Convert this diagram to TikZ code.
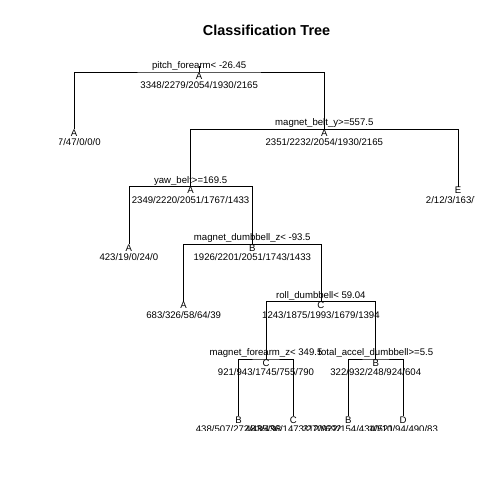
\documentclass[tikz,border=0pt]{standalone}
\usepackage{fontspec}
\setmainfont{Liberation Sans}
\usepackage{tikz}
\tikzset{
galho/.style={draw=black, line width=0.75pt}
         }
\tikzset{
regra/.style = {anchor=base, inner sep=0pt, yshift=3.5pt, font=\fontsize{9.6}{11}\selectfont},
classe/.style = {anchor=base, inner sep=0pt, yshift=-7pt, font=\fontsize{9.6}{11}\selectfont},
contagem/.style = {anchor=base, inner sep=0pt, yshift=-16.5pt, font=\fontsize{9.6}{11}\selectfont},
titulo/.style = {anchor=base, inner sep=0pt, font=\fontsize{14.4}{17}\selectfont\bfseries}
         }

\begin{document}
\begin{tikzpicture}[x=1pt,y=-1pt]
    \useasboundingbox (0,0) rectangle (504,504);

    % TITULO
    \node[titulo] (titulo) at (266.5,35) {Classification Tree};

    % NOS
    \coordinate (n0) at (199.15,72);
    \coordinate (f1) at (74,129.4);
    \coordinate (n1) at (324.3,129.4);
    \coordinate (n2) at (190.6,186.8);
    \coordinate (f2) at (458,186.8);
    \coordinate (f3) at (128.9,244.2);
    \coordinate (n3) at (252.3,244.2);
    \coordinate (f4) at (183.7,301.6);
    \coordinate (n4) at (320.9,301.6);
    \coordinate (n5) at (266,359);
    \coordinate (n6) at (375.75,359);
    \coordinate (f5) at (238.6,416.4);
    \coordinate (f6) at (293.4,416.4);
    \coordinate (f7) at (348.3,416.4);
    \coordinate (f8) at (403.2,416.4);

    \begin{scope}
    \clip (59,59) rectangle (474,430.5);

    % GALHOS
    \draw[galho] (n0) -- +(0,-6);
    \draw[galho] (f1) |- (n0) -| (n1);
    \draw[galho] (n2) |- (n1) -| (f2);
    \draw[galho] (f3) |- (n2) -| (n3);
    \draw[galho] (f4) |- (n3) -| (n4);
    \draw[galho] (n5) |- (n4) -| (n6);
    \draw[galho] (f5) |- (n5) -| (f6);
    \draw[galho] (f7) |- (n6) -| (f8);

    % REGRAS
    \node[regra] (r0) at (n0) {pitch\_forearm< -26.45};
    \node[regra] (r1) at (n1) {magnet\_belt\_y>=557.5};
    \node[regra] (r2) at (n2) {yaw\_belt>=169.5};
    \node[regra] (r3) at (n3) {magnet\_dumbbell\_z< -93.5};
    \node[regra] (r4) at (n4) {roll\_dumbbell< 59.04};
    \node[regra] (r5) at (n5) {magnet\_forearm\_z< 349.5};
    \node[regra] (r6) at (n6) {total\_accel\_dumbbell>=5.5};

    % CLASSES
    \node[classe] (c0) at (n0) {A};
    \node[classe] (c1) at (n1) {A};
    \node[classe] (c2) at (n2) {A};
    \node[classe] (c3) at (n3) {B};
    \node[classe] (c4) at (n4) {C};
    \node[classe] (c5) at (n5) {C};
    \node[classe] (c6) at (n6) {B};
    \node[classe] (cf1) at (f1) {A};
    \node[classe] (cf2) at (f2) {E};
    \node[classe] (cf3) at (f3) {A};
    \node[classe] (cf4) at (f4) {A};
    \node[classe] (cf5) at (f5) {B};
    \node[classe] (cf6) at (f6) {C};
    \node[classe] (cf7) at (f7) {B};
    \node[classe] (cf8) at (f8) {D};

    % CONTAGENS
    \node[contagem] (k0) at (n0) {3348/2279/2054/1930/2165};
    \node[contagem] (k1) at (n1) {2351/2232/2054/1930/2165};
    \node[contagem] (k2) at (n2) {2349/2220/2051/1767/1433};
    \node[contagem] (k3) at (n3) {1926/2201/2051/1743/1433};
    \node[contagem] (k4) at (n4) {1243/1875/1993/1679/1394};
    \node[contagem] (k5) at (n5) {921/943/1745/755/790};
    \node[contagem] (k6) at (n6) {322/932/248/924/604};
    \node[contagem] (kf1) at (f1) {997/47/0/0/0};
    \node[contagem] (kf2) at (f2) {2/12/3/163/732};
    \node[contagem] (kf3) at (f3) {423/19/0/24/0};
    \node[contagem] (kf4) at (f4) {683/326/58/64/39};
    \node[contagem] (kf5) at (f5) {438/507/272/485/98};
    \node[contagem] (kf6) at (f6) {483/436/1473/270/692};
    \node[contagem] (kf7) at (f7) {312/922/154/434/521};
    \node[contagem] (kf8) at (f8) {10/10/94/490/83};
    \end{scope}

\end{tikzpicture}
\end{document}
